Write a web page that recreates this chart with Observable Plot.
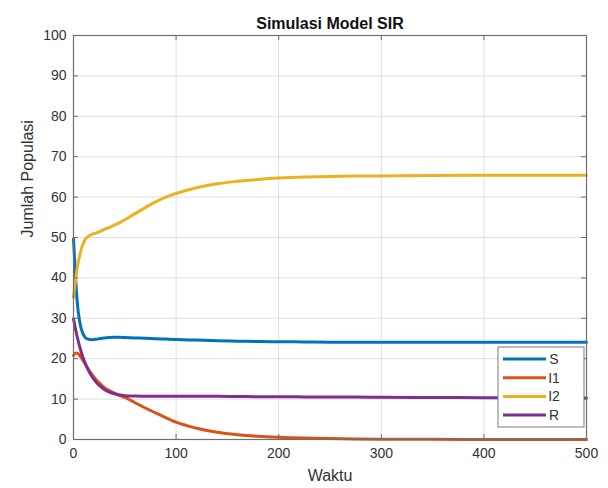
<!DOCTYPE html>
<html><head><meta charset="utf-8">
<script src="https://cdn.jsdelivr.net/npm/d3@7"></script>
<script src="https://cdn.jsdelivr.net/npm/@observablehq/plot@0.6"></script>
<style>body{margin:0;background:#fff;}</style>
</head><body><div id="chart"></div>
<script>
const title = "Simulasi Model SIR";
const xLabel = "Waktu";
const yLabel = "Jumlah Populasi";
const seriesNames = ["S", "I1", "I2", "R"];
const seriesColors = ["#0072BD", "#D95319", "#EDB120", "#7E2F8E"];
const xTicks = [0, 100, 200, 300, 400, 500];
const yTicks = [0, 10, 20, 30, 40, 50, 60, 70, 80, 90, 100];

const t  = [0, 2, 4, 6, 8, 10, 12, 15, 18, 22, 26, 30, 35, 40, 45, 50, 60, 70, 80, 90, 100, 120, 140, 160, 180, 200, 225, 250, 275, 300, 350, 400, 450, 500];
const S  = [49.7, 40.0, 33.0, 29.2, 27.0, 25.8, 25.1, 24.8, 24.7, 24.8, 25.0, 25.15, 25.25, 25.3, 25.3, 25.25, 25.15, 25.05, 24.95, 24.85, 24.75, 24.6, 24.45, 24.35, 24.25, 24.2, 24.15, 24.1, 24.1, 24.1, 24.1, 24.1, 24.1, 24.1];
const I1 = [20.8, 21.4, 21.3, 20.8, 20.1, 19.3, 18.5, 17.2, 16.1, 14.8, 13.8, 12.9, 12.1, 11.5, 10.9, 10.4, 9.1, 7.8, 6.6, 5.4, 4.3, 2.8, 1.8, 1.2, 0.8, 0.55, 0.35, 0.22, 0.14, 0.09, 0.04, 0.02, 0.01, 0.0];
const I2 = [35.2, 39.5, 43.0, 45.5, 47.5, 48.8, 49.7, 50.4, 50.8, 51.1, 51.5, 52.0, 52.5, 53.1, 53.7, 54.4, 55.9, 57.4, 58.8, 60.0, 60.9, 62.3, 63.3, 63.9, 64.35, 64.7, 64.95, 65.1, 65.2, 65.25, 65.35, 65.4, 65.4, 65.4];
const R  = [29.9, 27.3, 25.0, 23.0, 21.3, 19.8, 18.5, 16.9, 15.6, 14.2, 13.2, 12.4, 11.7, 11.3, 11.0, 10.85, 10.75, 10.7, 10.7, 10.7, 10.7, 10.7, 10.7, 10.65, 10.6, 10.6, 10.55, 10.5, 10.5, 10.45, 10.4, 10.35, 10.3, 10.3];

const seriesValues = [S, I1, I2, R];
const data = [];
seriesNames.forEach((name, k) => {
  t.forEach((tt, i) => data.push({series: name, t: tt, v: seriesValues[k][i]}));
});

const W = 608, H = 488;
const mL = 73, mR = 22, mT = 35, mB = 49;
const plotW = W - mL - mR, plotH = H - mT - mB;
const font = "'Liberation Sans', Arial, Helvetica, sans-serif";
const axisColor = "#6e6e6e";
const textColor = "#333333";

const chart = Plot.plot({
  width: W, height: H,
  marginLeft: mL, marginRight: mR, marginTop: mT, marginBottom: mB,
  style: {fontFamily: font, background: "#fff", overflow: "visible"},
  x: {domain: [0, 500]},
  y: {domain: [0, 100]},
  color: {domain: seriesNames, range: seriesColors},
  marks: [
    Plot.gridX(xTicks, {stroke: "#dedede", strokeOpacity: 1}),
    Plot.gridY(yTicks, {stroke: "#dedede", strokeOpacity: 1}),
    Plot.line(data, {x: "t", y: "v", z: "series", stroke: "series", strokeWidth: 3, curve: "monotone-x"}),
    Plot.frame({stroke: axisColor, strokeWidth: 1.2}),
    Plot.ruleX(xTicks, {x: d => d, insetTop: plotH - 5, stroke: axisColor}),
    Plot.ruleX(xTicks, {x: d => d, insetBottom: plotH - 5, stroke: axisColor}),
    Plot.ruleY(yTicks, {y: d => d, insetRight: plotW - 5, stroke: axisColor}),
    Plot.ruleY(yTicks, {y: d => d, insetLeft: plotW - 5, stroke: axisColor}),
    Plot.axisX(xTicks, {tickSize: 0, tickPadding: 9, label: null, fontSize: 14, fill: textColor}),
    Plot.axisY(yTicks, {tickSize: 0, tickPadding: 7, label: null, fontSize: 14, fill: textColor}),
    Plot.text([xLabel], {text: d => d, frameAnchor: "bottom", dy: 41, fontSize: 16, fill: textColor}),
    Plot.text([yLabel], {text: d => d, frameAnchor: "left", dx: -46, rotate: -90, fontSize: 16, fill: textColor}),
    Plot.text([title], {text: d => d, frameAnchor: "top", dy: -18, fontSize: 16, fontWeight: "bold", fill: "#111"})
  ]
});
document.getElementById("chart").appendChild(chart);

// legend inside the axes, bottom-right
const svg = d3.select(chart);
const lgW = 86, lgH = 80;
const lgX = W - mR - 2 - lgW, lgY = H - mB - 12 - lgH;
const lg = svg.append("g").attr("transform", `translate(${lgX},${lgY})`);
lg.append("rect").attr("width", lgW).attr("height", lgH).attr("fill", "#fff").attr("stroke", "#7a7a7a").attr("stroke-width", 1);
seriesNames.forEach((name, i) => {
  const yy = 12 + i * 18.7;
  lg.append("line").attr("x1", 5).attr("x2", 48).attr("y1", yy).attr("y2", yy)
    .attr("stroke", seriesColors[i]).attr("stroke-width", 3);
  lg.append("text").attr("x", 56).attr("y", yy).attr("dy", "0.35em")
    .attr("font-family", font).attr("font-size", 14).attr("fill", textColor).text(name);
});
</script>
</body></html>
